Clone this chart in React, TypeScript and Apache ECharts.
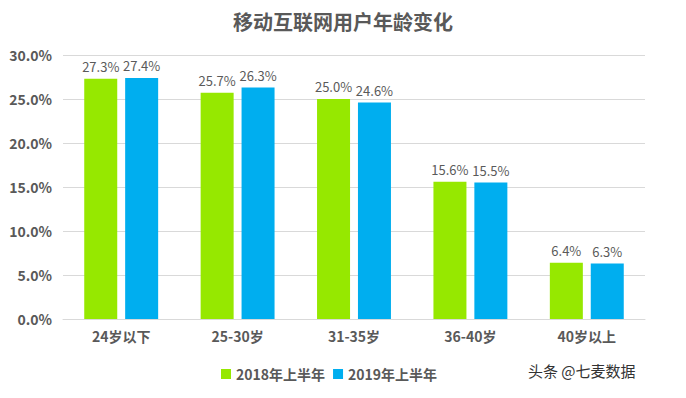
import React, { useEffect, useRef } from "react";
import * as echarts from "echarts";

const categories = ["24岁以下", "25-30岁", "31-35岁", "36-40岁", "40岁以上"];
const series2018 = [27.3, 25.7, 25.0, 15.6, 6.4];
const series2019 = [27.4, 26.3, 24.6, 15.5, 6.3];
const seriesNames = ["2018年上半年", "2019年上半年"];
const titleText = "移动互联网用户年龄变化";
const watermark = "头条 @七麦数据";

export default function App() {
  const ref = useRef<HTMLDivElement>(null);
  useEffect(() => {
    if (!ref.current) return;
    const chart = echarts.init(ref.current, null, { renderer: "svg" });
    const font = "'Noto Sans CJK SC', 'Noto Sans', sans-serif";
    const labelCfg = {
      show: true,
      position: "top",
      distance: 6,
      fontSize: 13,
      color: "#5a5a5a",
      fontFamily: font,
      formatter: (p: any) => p.value.toFixed(1) + "%",
    };
    chart.setOption({
      animation: false,
      backgroundColor: "#ffffff",
      title: {
        text: titleText,
        left: "center",
        top: 6,
        textStyle: { fontSize: 20, fontWeight: "bold", color: "#595959", fontFamily: font },
      },
      legend: {
        data: seriesNames,
        left: 216,
        top: 362,
        itemWidth: 10,
        itemHeight: 10,
        itemGap: 8,
        icon: "rect",
        textStyle: { fontSize: 14, fontWeight: "bold", color: "#595959", fontFamily: font },
      },
      grid: { left: 63, right: 41, top: 55, bottom: 79 },
      xAxis: {
        type: "category",
        data: categories,
        axisLine: { lineStyle: { color: "#d9d9d9" } },
        axisTick: { show: false },
        axisLabel: { fontSize: 14, fontWeight: "bold", color: "#595959", fontFamily: font, margin: 10 },
      },
      yAxis: {
        type: "value",
        min: 0,
        max: 30,
        interval: 5,
        axisLine: { show: false },
        axisTick: { show: false },
        splitLine: { lineStyle: { color: "#d9d9d9" } },
        axisLabel: {
          fontSize: 14,
          fontWeight: "bold",
          color: "#595959",
          fontFamily: font,
          margin: 11,
          formatter: (v: number) => v.toFixed(1) + "%",
        },
      },
      series: [
        {
          name: seriesNames[0],
          type: "bar",
          data: series2018,
          barWidth: 33,
          barGap: "24%",
          itemStyle: { color: "#96e800" },
          label: labelCfg,
        },
        {
          name: seriesNames[1],
          type: "bar",
          data: series2019,
          barWidth: 33,
          itemStyle: { color: "#00aeef" },
          label: labelCfg,
        },
      ],
      graphic: [
        {
          type: "text",
          left: 528,
          top: 363,
          style: { text: watermark, fontSize: 15, fill: "#333333", fontFamily: font },
        },
      ],
    });
    return () => chart.dispose();
  }, []);
  return (
    <div
      ref={ref}
      style={{ position: "fixed", left: 0, top: 0, width: 686, height: 398 }}
    />
  );
}
